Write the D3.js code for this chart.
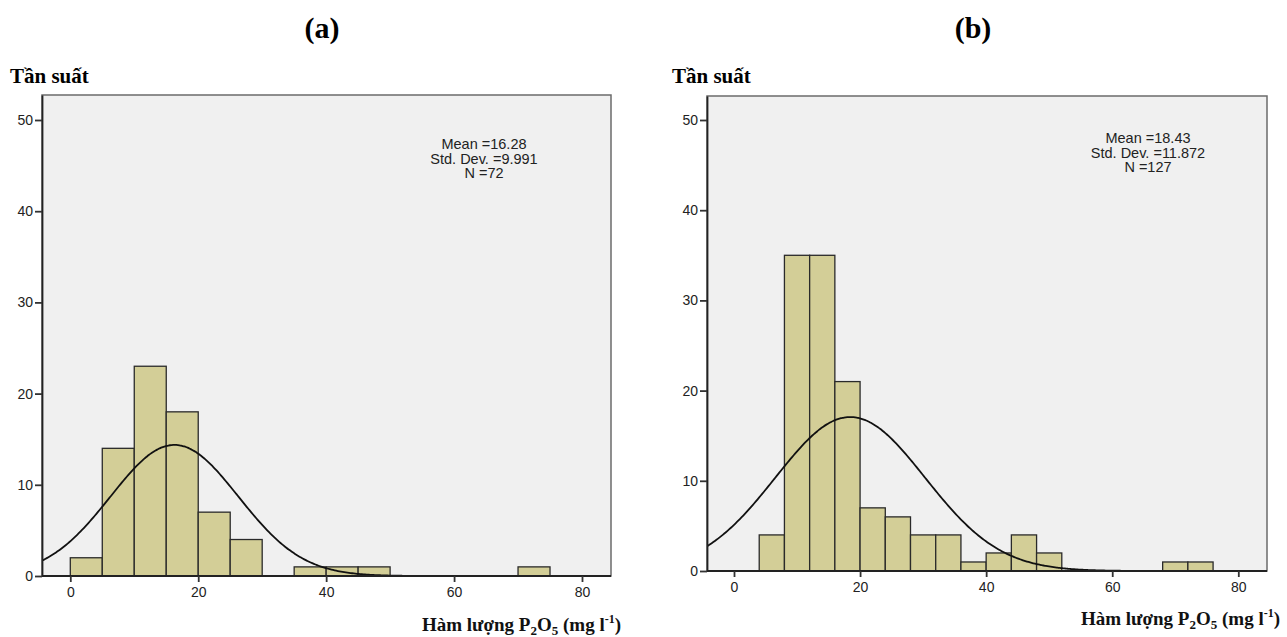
<!DOCTYPE html>
<html><head><meta charset="utf-8">
<script src="https://cdn.jsdelivr.net/npm/d3@7/dist/d3.min.js"></script>
<style>
html,body{margin:0;padding:0;background:#fff;}
svg{display:block;}
</style></head>
<body>
<svg id="chart" width="1287" height="637"></svg>
<script>
// ---- data ----
const panelTitles = ["(a)", "(b)"];
const yAxisTitle = "Tần suất";
const xTicks = [0, 20, 40, 60, 80];
const yTicks = [0, 10, 20, 30, 40, 50];

// panel (a): bin width 5
const binStartsA = [0, 5, 10, 15, 20, 25, 35, 40, 45, 70];
const countsA    = [2, 14, 23, 18, 7, 4, 1, 1, 1, 1];
const binWidthA = 5;
const statsA = { mean: 16.28, sd: 9.991, n: 72 };
const statsTextA = ["Mean =16.28", "Std. Dev. =9.991", "N =72"];

// panel (b): bin width 4
const binStartsB = [4, 8, 12, 16, 20, 24, 28, 32, 36, 40, 44, 48, 68, 72];
const countsB    = [4, 35, 35, 21, 7, 6, 4, 4, 1, 2, 4, 2, 1, 1];
const binWidthB = 4;
const statsB = { mean: 18.43, sd: 11.872, n: 127 };
const statsTextB = ["Mean =18.43", "Std. Dev. =11.872", "N =127"];

const svg = d3.select("#chart");

const panels = [
  { title: panelTitles[0], titleX: 322, left: 42, right: 611, top: 95, bottom: 576, y50: 120,
    starts: binStartsA, counts: countsA, bw: binWidthA, stats: statsA, statsText: statsTextA,
    statsX: 484, statsY: 149, ytitleX: 10, xlabelX: 621, xlabelY: 631, x0: 70.3, x80: 582 },
  { title: panelTitles[1], titleX: 973, left: 707, right: 1267, top: 96, bottom: 571, y50: 120,
    starts: binStartsB, counts: countsB, bw: binWidthB, stats: statsB, statsText: statsTextB,
    statsX: 1148, statsY: 143, ytitleX: 672, xlabelX: 1280, xlabelY: 625, x0: 734, x80: 1238.3 }
];

panels.forEach((p, i) => {
  const g = svg.append("g");
  const pxPerUnit = (p.x80 - p.x0) / 80;
  const x = d3.scaleLinear()
    .domain([(p.left - p.x0) / pxPerUnit, (p.right - p.x0) / pxPerUnit])
    .range([p.left, p.right]);
  const pxPerCount = (p.bottom - p.y50) / 50;
  const y = d3.scaleLinear()
    .domain([0, (p.bottom - p.top) / pxPerCount])
    .range([p.bottom, p.top]);

  // title
  g.append("text").attr("x", p.titleX).attr("y", 38)
    .attr("text-anchor", "middle")
    .style("font-family", "'Liberation Serif', 'Times New Roman', serif")
    .style("font-weight", "bold").style("font-size", "30px")
    .text(p.title);

  // y-axis title
  g.append("text").attr("x", p.ytitleX).attr("y", 83)
    .style("font-family", "'Liberation Serif', 'Times New Roman', serif")
    .style("font-weight", "bold").style("font-size", "21px")
    .text(yAxisTitle);

  // plot background
  g.append("rect").attr("x", p.left).attr("y", p.top)
    .attr("width", p.right - p.left).attr("height", p.bottom - p.top)
    .attr("fill", "#f0f0f0").attr("stroke", "#6b6b6b").attr("stroke-width", 1.5);

  const clipId = "clip" + i;
  g.append("clipPath").attr("id", clipId).append("rect")
    .attr("x", p.left).attr("y", p.top)
    .attr("width", p.right - p.left).attr("height", p.bottom - p.top);

  // bars
  const data = p.starts.map((s, k) => ({ x0: s, x1: s + p.bw, c: p.counts[k] }));
  g.append("g").selectAll("rect").data(data).join("rect")
    .attr("x", d => x(d.x0)).attr("y", d => y(d.c))
    .attr("width", d => x(d.x1) - x(d.x0))
    .attr("height", d => y(0) - y(d.c))
    .attr("fill", "#d3ce97").attr("stroke", "#2a2a2a").attr("stroke-width", 1.3);

  // normal curve
  const s = p.stats;
  const pts = d3.range(x.domain()[0], x.domain()[1] + 0.01, 0.25).map(v => {
    const z = (v - s.mean) / s.sd;
    return [v, s.n * p.bw * Math.exp(-0.5 * z * z) / (s.sd * Math.sqrt(2 * Math.PI))];
  });
  g.append("path").datum(pts)
    .attr("clip-path", `url(#${clipId})`)
    .attr("fill", "none").attr("stroke", "#111").attr("stroke-width", 1.8)
    .attr("d", d3.line().x(d => x(d[0])).y(d => y(d[1])).curve(d3.curveBasis));

  // axes
  const xAxis = d3.axisBottom(x).tickValues(xTicks).tickSize(6).tickPadding(5).tickSizeOuter(0);
  const yAxis = d3.axisLeft(y).tickValues(yTicks).tickSize(7).tickPadding(2).tickSizeOuter(0);
  const gx = g.append("g").attr("transform", `translate(0,${p.bottom})`).call(xAxis);
  const gy = g.append("g").attr("transform", `translate(${p.left},0)`).call(yAxis);
  [gx, gy].forEach(a => {
    a.select(".domain").attr("stroke", "#222").attr("stroke-width", 1.8);
    a.selectAll(".tick line").attr("stroke", "#333").attr("stroke-width", 1.8);
    a.selectAll(".tick text").attr("fill", "#222")
      .style("font-family", "'Liberation Sans', Arial, sans-serif").style("font-size", "14px");
  });
  gx.select(".domain").attr("d", `M${p.left},0H${p.right}`);

  // stats text
  g.append("g").selectAll("text").data(p.statsText).join("text")
    .attr("x", p.statsX).attr("y", (d, k) => p.statsY + k * 14.5)
    .attr("text-anchor", "middle").attr("fill", "#222")
    .style("font-family", "'Liberation Sans', Arial, sans-serif").style("font-size", "14.5px")
    .text(d => d);

  // x-axis label
  const lab = g.append("text").attr("x", p.xlabelX).attr("y", p.xlabelY)
    .attr("text-anchor", "end")
    .style("font-family", "'Liberation Serif', 'Times New Roman', serif")
    .style("font-weight", "bold").style("font-size", "19px").attr("fill", "#111");
  lab.append("tspan").text("Hàm lượng P");
  lab.append("tspan").attr("dy", 4).style("font-size", "13px").text("2");
  lab.append("tspan").attr("dy", -4).text("O");
  lab.append("tspan").attr("dy", 4).style("font-size", "13px").text("5");
  lab.append("tspan").attr("dy", -4).text(" (mg l");
  lab.append("tspan").attr("dy", -8).style("font-size", "12px").text("-1");
  lab.append("tspan").attr("dy", 8).text(")");
});
</script>
</body></html>
